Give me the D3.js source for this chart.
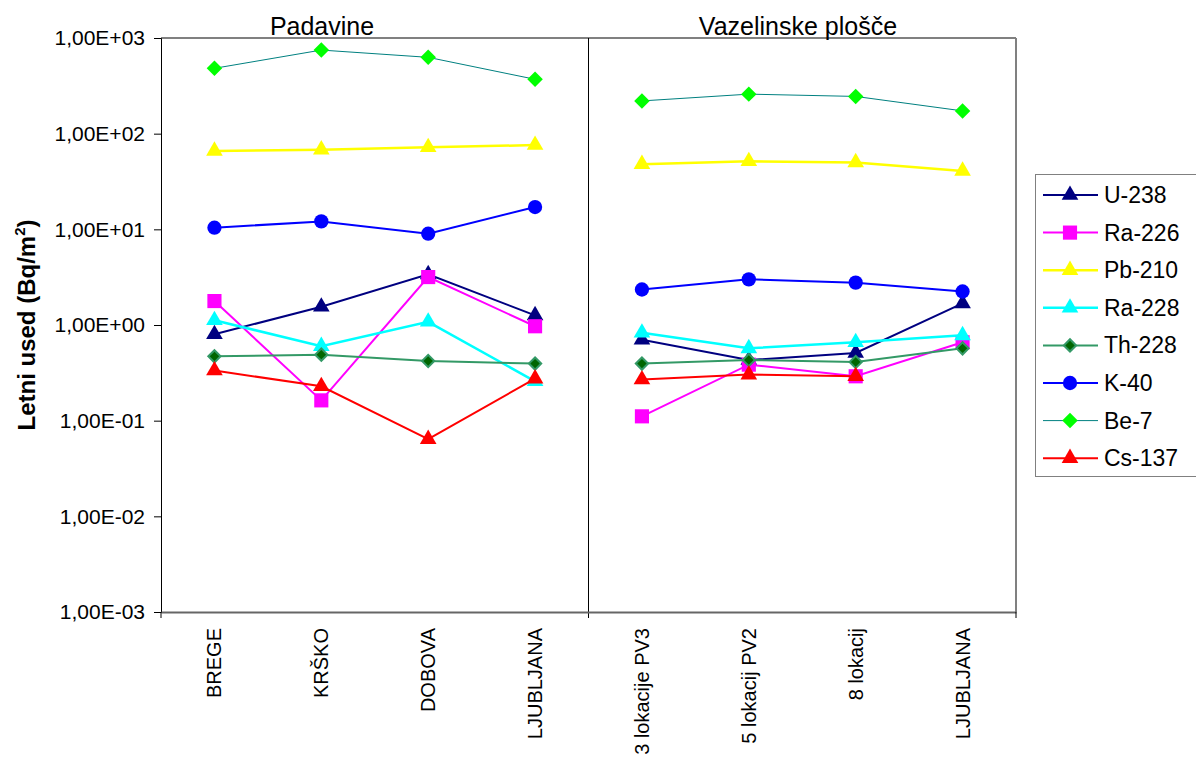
<!DOCTYPE html>
<html><head><meta charset="utf-8">
<script src="https://cdn.jsdelivr.net/npm/d3@7"></script>
<style>body{margin:0;background:#fff}svg{display:block;font-family:"Liberation Sans",Arial,sans-serif}</style>
</head><body><svg id="c" width="1196" height="762"></svg>
<script>
const categories = ["BREGE","KRŠKO","DOBOVA","LJUBLJANA","3 lokacije PV3","5 lokacij PV2","8 lokacij","LJUBLJANA"];
const groups = ["Padavine","Vazelinske plošče"];
const groupOf = [0,0,0,0,1,1,1,1];
const yTicks = [1e-3,1e-2,1e-1,1e0,1e1,1e2,1e3];
const yTickLabels = ["1,00E-03","1,00E-02","1,00E-01","1,00E+00","1,00E+01","1,00E+02","1,00E+03"];

const U238  = [0.80,1.55,3.38,1.26, 0.70,0.43,0.51,1.68];
const Ra226 = [1.78,0.163,3.17,0.97, 0.111,0.385,0.291,0.66];
const Pb210 = [66,68,72,76, 48,51.5,50,40.8];
const Ra228 = [1.12,0.60,1.08,0.258, 0.83,0.57,0.66,0.78];
const Th228 = [0.47,0.49,0.42,0.395, 0.395,0.43,0.41,0.57];
const K40   = [10.4,12.1,9.0,17.1, 2.35,3.0,2.77,2.24];
const Be7   = [482,748,628,370, 220,259,245,173];
const Cs137 = [0.334,0.229,0.064,0.275, 0.269,0.303,0.291,null];

const series = [
  {name:"U-238", values:U238, line:"#000080", fill:"#000080", stroke:"none", sym:"tri", lw:2},
  {name:"Ra-226", values:Ra226, line:"#FF00FF", fill:"#FF00FF", stroke:"none", sym:"sq", lw:2},
  {name:"Pb-210", values:Pb210, line:"#FFFF00", fill:"#FFFF00", stroke:"none", sym:"tri", lw:2.5},
  {name:"Ra-228", values:Ra228, line:"#00FFFF", fill:"#00FFFF", stroke:"none", sym:"tri", lw:2.5},
  {name:"Th-228", values:Th228, line:"#339966", fill:"#006600", stroke:"#339966", sym:"dia2", lw:2},
  {name:"K-40", values:K40, line:"#0000FF", fill:"#0000FF", stroke:"none", sym:"circ", lw:2},
  {name:"Be-7", values:Be7, line:"#008080", fill:"#00FF00", stroke:"none", sym:"dia", lw:1},
  {name:"Cs-137", values:Cs137, line:"#FF0000", fill:"#FF0000", stroke:"none", sym:"tri", lw:2}
];

const L=161, R=1016, T=38, B=612;
const FONT = "Liberation Sans, Arial, sans-serif";
const svg = d3.select("#c");
const x = d3.scaleBand().domain(d3.range(categories.length)).range([L,R]).padding(0);
const cx = i => x(i) + x.bandwidth()/2;
const y = d3.scaleLog().domain([1e-3,1e3]).range([B,T]);

function symPath(s){
  if(s==="tri") return d3.symbol(d3.symbolTriangle, 120)();
  if(s==="sq") return d3.symbol(d3.symbolSquare, 200)();
  if(s==="circ") return d3.symbol(d3.symbolCircle, 160)();
  if(s==="dia") return d3.symbol(d3.symbolSquare, 120)();
  if(s==="dia2") return d3.symbol(d3.symbolSquare, 75)();
}
function symRot(s){ return (s==="dia"||s==="dia2") ? " rotate(45)" : ""; }

// frame
svg.append("line").attr("x1",L).attr("x2",R).attr("y1",T).attr("y2",T).attr("stroke","#808080").attr("stroke-width",2);
svg.append("line").attr("x1",R).attr("x2",R).attr("y1",T).attr("y2",B).attr("stroke","#808080").attr("stroke-width",2);

// divider between groups
const divX = x(4);
svg.append("line").attr("x1",divX).attr("x2",divX).attr("y1",T).attr("y2",B+6).attr("stroke","#000").attr("stroke-width",1);

// y axis
const ya = svg.append("g").attr("transform",`translate(${L},0)`)
  .call(d3.axisLeft(y).tickValues(yTicks).tickFormat((d,i)=>yTickLabels[i]).tickSize(7).tickPadding(9));
ya.select(".domain").attr("stroke","#000");
ya.selectAll("text").attr("font-size",21).attr("fill","#000").attr("font-family",FONT);

// x axis
const xa = svg.append("g").attr("transform",`translate(0,${B})`)
  .call(d3.axisBottom(x).tickFormat(i=>categories[i]).tickSize(0));
xa.select(".domain").attr("stroke","#666").attr("stroke-width",2);
xa.selectAll(".tick text")
  .attr("font-size",20).attr("fill","#000").attr("font-family",FONT)
  .attr("transform","rotate(-90)").attr("text-anchor","end")
  .attr("x",-16).attr("y",0).attr("dy","0.35em");
[L,R].forEach(px=>svg.append("line").attr("x1",px).attr("x2",px).attr("y1",B).attr("y2",B+6).attr("stroke","#000"));

// group titles
svg.append("text").attr("x",322).attr("y",35).attr("text-anchor","middle").attr("font-size",25).text(groups[0]);
svg.append("text").attr("x",798).attr("y",35).attr("text-anchor","middle").attr("font-size",25).text(groups[1]);

// y title
const yt = svg.append("text").attr("transform",`translate(35,${(T+B)/2}) rotate(-90)`).attr("text-anchor","middle")
  .attr("font-size",24).attr("font-weight","bold");
yt.append("tspan").text("Letni used (Bq/m");
yt.append("tspan").attr("font-size",15).attr("dy",-10).text("2");
yt.append("tspan").attr("dy",10).text(")");

// series
const line = d3.line().defined(d=>d.v!=null).x(d=>cx(d.i)).y(d=>y(d.v));
series.forEach(s=>{
  const g = svg.append("g");
  groups.forEach((gr,gi)=>{
    const pts = s.values.map((v,i)=>({v,i})).filter(d=>groupOf[d.i]===gi);
    g.append("path").attr("d",line(pts)).attr("fill","none").attr("stroke",s.line).attr("stroke-width",s.lw);
  });
  s.values.forEach((v,i)=>{
    if(v==null) return;
    g.append("path").attr("d",symPath(s.sym)).attr("transform",`translate(${cx(i)},${y(v)})${symRot(s.sym)}`)
      .attr("fill",s.fill).attr("stroke",s.stroke).attr("stroke-width",s.stroke==="none"?0:2);
  });
});

// legend
const lg = svg.append("g");
lg.append("rect").attr("x",1035.5).attr("y",174.5).attr("width",162).attr("height",302).attr("fill","#fff").attr("stroke","#808080").attr("stroke-width",1);
series.forEach((s,k)=>{
  const ly = 195 + k*37.6;
  lg.append("line").attr("x1",1043).attr("x2",1098).attr("y1",ly).attr("y2",ly).attr("stroke",s.line).attr("stroke-width",s.lw);
  lg.append("path").attr("d",symPath(s.sym)).attr("transform",`translate(1070,${ly})${symRot(s.sym)}`)
    .attr("fill",s.fill).attr("stroke",s.stroke).attr("stroke-width",s.stroke==="none"?0:2);
  lg.append("text").attr("x",1104).attr("y",ly).attr("dy","0.35em").attr("font-size",23).text(s.name);
});
</script></body></html>
